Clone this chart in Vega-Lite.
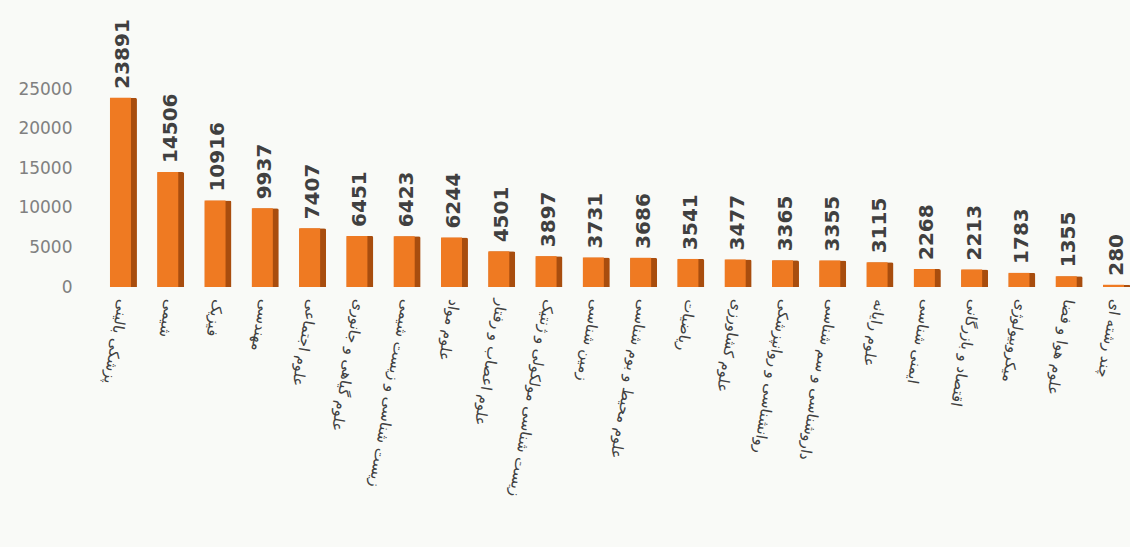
{
  "$schema": "https://vega.github.io/schema/vega-lite/v6.json",
  "width": 1020,
  "height": 198,
  "autosize": {"type": "none"},
  "padding": {"left": 110, "top": 89, "right": 0, "bottom": 260},
  "background": "#f9faf7",
  "config": {"view": {"stroke": null}},
  "data": {
    "values": [
      {"field": "پزشکی بالینی", "count": 23891},
      {"field": "شیمی", "count": 14506},
      {"field": "فیزیک", "count": 10916},
      {"field": "مهندسی", "count": 9937},
      {"field": "علوم اجتماعی", "count": 7407},
      {"field": "علوم گیاهی و جانوری", "count": 6451},
      {"field": "زیست شناسی و زیست شیمی", "count": 6423},
      {"field": "علوم مواد", "count": 6244},
      {"field": "علوم اعصاب و رفتار", "count": 4501},
      {"field": "زیست شناسی مولکولی و ژنتیک", "count": 3897},
      {"field": "زمین شناسی", "count": 3731},
      {"field": "علوم محیط و بوم شناسی", "count": 3686},
      {"field": "ریاضیات", "count": 3541},
      {"field": "علوم کشاورزی", "count": 3477},
      {"field": "روانشناسی و روانپزشکی", "count": 3365},
      {"field": "داروشناسی و سم شناسی", "count": 3355},
      {"field": "علوم رایانه", "count": 3115},
      {"field": "ایمنی شناسی", "count": 2268},
      {"field": "اقتصاد و بازرگانی", "count": 2213},
      {"field": "میکروبیولوژی", "count": 1783},
      {"field": "علوم هوا و فضا", "count": 1355},
      {"field": "چند رشته ای", "count": 280}
    ]
  },
  "encoding": {
    "x": {
      "field": "field",
      "type": "nominal",
      "sort": null,
      "scale": {"paddingInner": 0.43, "paddingOuter": 0},
      "axis": {
        "title": null,
        "domain": false,
        "ticks": false,
        "labelAngle": 100,
        "labelAlign": "left",
        "labelBaseline": "middle",
        "labelPadding": 12,
        "labelFont": "DejaVu Sans",
        "labelFontSize": 15,
        "labelColor": "#404040",
        "labelLimit": 300
      }
    },
    "y": {
      "field": "count",
      "type": "quantitative",
      "scale": {"domain": [0, 25000], "nice": false},
      "axis": {
        "title": null,
        "domain": false,
        "ticks": false,
        "grid": false,
        "values": [0, 5000, 10000, 15000, 20000, 25000],
        "format": "d",
        "labelPadding": 38,
        "labelFont": "DejaVu Sans",
        "labelFontSize": 17,
        "labelColor": "#808080"
      }
    }
  },
  "layer": [
    {"mark": {"type": "bar", "color": "#a84d0e", "cornerRadiusTopLeft": 2, "cornerRadiusTopRight": 2}},
    {"mark": {"type": "bar", "color": "#ef7a22", "width": 21, "xOffset": -3}},
    {
      "mark": {
        "type": "text",
        "angle": 270,
        "align": "left",
        "baseline": "middle",
        "dx": 9,
        "font": "DejaVu Sans",
        "fontWeight": "bold",
        "fontSize": 20,
        "color": "#404040"
      },
      "encoding": {"text": {"field": "count", "type": "quantitative", "format": "d"}}
    }
  ]
}
